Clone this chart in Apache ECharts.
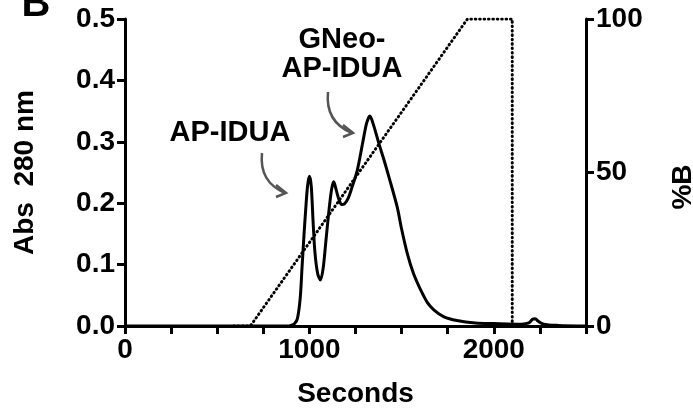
<!DOCTYPE html>
<html>
<head>
<meta charset="utf-8">
<script src="https://cdn.jsdelivr.net/npm/echarts@6/dist/echarts.min.js"></script>
<style>
  html, body { margin: 0; padding: 0; background: #fff; }
  #chart { width: 693px; height: 408px; }
</style>
</head>
<body>
<div id="chart"></div>
<script>
// absorbance trace [seconds, Abs 280 nm]
const absTrace = [
  [0, 0], [600, 0], [880, 0], [900, 0.001], [920, 0.004], [935, 0.012],
  [950, 0.045], [960, 0.095], [970, 0.145], [980, 0.19], [990, 0.228],
  [1000, 0.244], [1010, 0.228], [1020, 0.17], [1030, 0.12], [1045, 0.085],
  [1060, 0.075], [1075, 0.095], [1090, 0.14], [1105, 0.185], [1120, 0.222],
  [1132, 0.235], [1145, 0.222], [1160, 0.206], [1175, 0.198], [1190, 0.199],
  [1210, 0.208], [1230, 0.225], [1260, 0.254], [1290, 0.300], [1310, 0.330],
  [1328, 0.342], [1345, 0.330], [1377, 0.297], [1405, 0.270], [1431, 0.243],
  [1476, 0.194], [1500, 0.158], [1531, 0.118], [1565, 0.085], [1603, 0.059],
  [1640, 0.038], [1676, 0.026], [1730, 0.015], [1800, 0.009], [1900, 0.005],
  [2000, 0.004], [2150, 0.003], [2190, 0.005], [2210, 0.011], [2225, 0.012],
  [2240, 0.008], [2270, 0.003], [2350, 0.001], [2500, 0]
]
// gradient program [seconds, %B]
const gradient = [[590, 0], [680, 0], [1857, 100], [2100, 100], [2100, 0]]

const xLabels = [0, 1000, 2000]

const font = 'Liberation Sans, Arial, sans-serif'
const chart = echarts.init(document.getElementById('chart'))

const axisBase = {
  axisLine: { show: true, lineStyle: { color: '#000', width: 3 } },
  axisTick: { show: true, length: 8, lineStyle: { color: '#000', width: 3 } },
  splitLine: { show: false },
  axisLabel: { color: '#000', fontSize: 28, fontWeight: 'bold', fontFamily: font }
}
const nameStyle = { color: '#000', fontSize: 28, fontWeight: 'bold', fontFamily: font }
const annot = { fontSize: 29, fontWeight: 'bold', fontFamily: font, fill: '#000', align: 'center', verticalAlign: 'middle' }

chart.setOption({
  animation: false,
  grid: { left: 125, right: 107, top: 19, bottom: 82, outerBoundsMode: 'none', containLabel: false },
  xAxis: {
    type: 'value', min: 0, max: 2500, interval: 250,
    ...axisBase,
    axisLabel: {
      ...axisBase.axisLabel, margin: 10,
      formatter: v => (xLabels.indexOf(v) >= 0 ? String(v) : '')
    },
    name: 'Seconds', nameLocation: 'middle', nameGap: 54,
    nameTextStyle: nameStyle
  },
  yAxis: [
    {
      type: 'value', min: 0, max: 0.5, interval: 0.1,
      ...axisBase,
      axisLabel: { ...axisBase.axisLabel, margin: 10, formatter: v => v.toFixed(1) },
      name: 'Abs  280 nm', nameLocation: 'middle', nameGap: 86,
      nameTextStyle: nameStyle
    },
    {
      type: 'value', min: 0, max: 100, interval: 50, position: 'right',
      ...axisBase,
      axisLabel: { ...axisBase.axisLabel, margin: 10 }
    }
  ],
  graphic: [
    { type: 'text', x: 36, y: 5, style: { ...annot, text: 'B', fontSize: 40 } },
    { type: 'text', x: 683, y: 187, rotation: Math.PI / 2, style: { ...annot, text: '%B', fontSize: 28 } },
    { type: 'text', x: 230, y: 133, style: { ...annot, text: 'AP-IDUA' } },
    { type: 'text', x: 342, y: 40, style: { ...annot, text: 'GNeo-' } },
    { type: 'text', x: 342, y: 69, style: { ...annot, text: 'AP-IDUA' } },
    // arrows
    { type: 'bezierCurve', shape: { x1: 262, y1: 153, x2: 285, y2: 193, cpx1: 259, cpy1: 182 },
      style: { stroke: '#555', lineWidth: 2.5, fill: null } },
    { type: 'polyline', shape: { points: [[276, 185], [286, 193], [276, 197]] },
      style: { stroke: '#555', lineWidth: 2.5, fill: null } },
    { type: 'bezierCurve', shape: { x1: 328, y1: 92, x2: 352, y2: 133, cpx1: 325, cpy1: 122 },
      style: { stroke: '#555', lineWidth: 2.5, fill: null } },
    { type: 'polyline', shape: { points: [[343, 125], [353, 133], [343, 137]] },
      style: { stroke: '#555', lineWidth: 2.5, fill: null } }
  ],
  series: [
    {
      type: 'line', data: absTrace, yAxisIndex: 0, showSymbol: false, smooth: 0.3,
      lineStyle: { color: '#000', width: 3 }, z: 3
    },
    {
      type: 'line', data: gradient, yAxisIndex: 1, showSymbol: false,
      lineStyle: { color: '#000', width: 3, type: [0.6, 3.8], cap: 'round' }, z: 2
    }
  ]
})
</script>
</body>
</html>
